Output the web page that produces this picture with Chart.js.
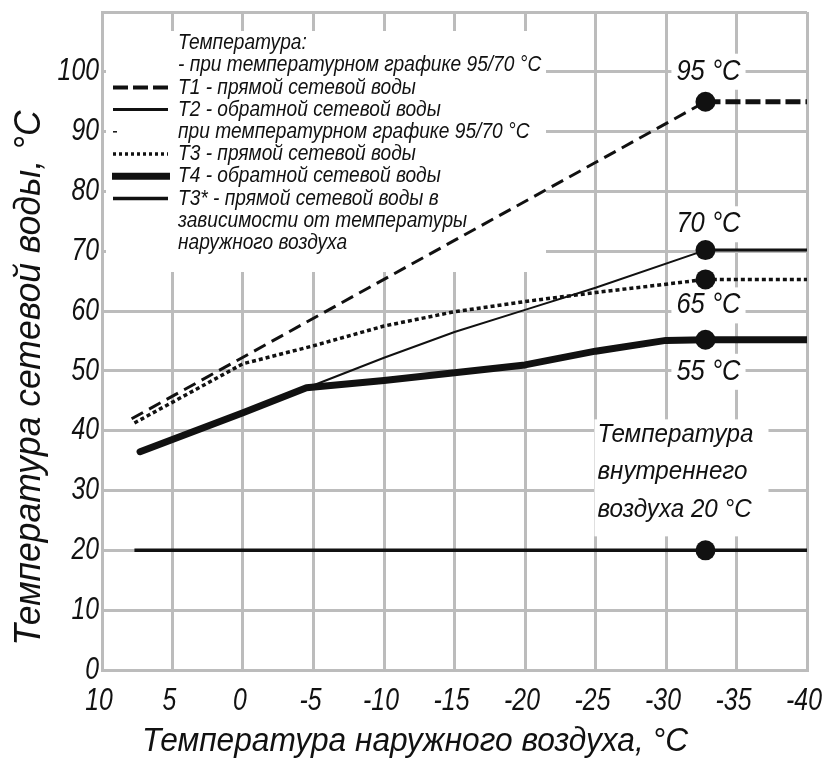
<!DOCTYPE html>
<html lang="ru">
<head>
<meta charset="utf-8">
<title>Температурный график</title>
<script src="https://cdn.jsdelivr.net/npm/chart.js@4.4.1/dist/chart.umd.min.js"></script>
<style>
  html, body { margin: 0; padding: 0; background: #fff; }
  #wrap { position: relative; width: 827px; height: 760px; }
</style>
</head>
<body>
<div id="wrap"><canvas id="chart-temp"></canvas></div>
<script>
// ticks
const xTicks = [10, 5, 0, -5, -10, -15, -20, -25, -30, -35, -40];
const yTicks = [0, 10, 20, 30, 40, 50, 60, 70, 80, 90, 100];

// outdoor air temperature where the design points sit
const designOutdoor = -32.8;

// T1 - supply water, 95/70
const t1Outdoor = [7.9, -32.8, -40];
const t1Water = [42, 95, 95];
// T2 - return water, 95/70
const t2Outdoor = [-5, -10, -15, -20, -25, -32.8, -40];
const t2Water = [47.6, 52.2, 56.5, 60.2, 63.9, 70.2, 70.2];
// T3 - supply water
const t3Outdoor = [7.7, 0, -5, -10, -15, -20, -25, -30, -32.8, -40];
const t3Water = [41.3, 51.2, 54.2, 57.5, 59.9, 61.6, 63.1, 64.5, 65.3, 65.3];
// T4 - return water
const t4Outdoor = [7.3, 0, -4.5, -10, -15, -20, -25, -30, -32.8, -40];
const t4Water = [36.5, 43, 47.2, 48.4, 49.7, 51, 53.3, 55.1, 55.2, 55.2];
// indoor air 20 °C
const airOutdoor = [7.7, -32.8, -40];
const airInside = [20, 20, 20];

const pointLabels = ['95 °C', '70 °C', '65 °C', '55 °C'];
const pointLabelValues = [95, 70, 65.3, 55.2];
const airLabel = ['Температура', 'внутреннего', 'воздуха 20 °C'];

const legendRows = [
  { text: 'Температура:', sample: null },
  { text: '- при температурном графике 95/70 °C', sample: null },
  { text: 'Т1 - прямой сетевой воды', sample: 'dash' },
  { text: 'Т2 - обратной сетевой воды', sample: 'thin' },
  { text: 'при температурном графике 95/70 °C', sample: 'tick' },
  { text: 'Т3 - прямой сетевой воды', sample: 'dot' },
  { text: 'Т4 - обратной сетевой воды', sample: 'thick' },
  { text: 'Т3* - прямой сетевой воды в', sample: 'mid' },
  { text: 'зависимости от температуры', sample: null },
  { text: 'наружного воздуха', sample: null }
];

const GRID = '#bcbcbc';
const INK = '#111';

function pts(xs, ys) {
  return xs.map((x, i) => ({ x: x, y: ys[i] }));
}

function isDesign(v) {
  return Math.abs(v - designOutdoor) < 0.01;
}

function markerRadius(ctx) {
  return ctx.raw && isDesign(ctx.raw.x) ? 10 : 0;
}

function drawText(ctx, str, x, y, size, align, sx) {
  ctx.save();
  ctx.translate(x, y);
  ctx.scale(sx || 1, 1);
  ctx.font = 'italic ' + size + 'px "Liberation Sans", Arial, sans-serif';
  ctx.textAlign = align;
  ctx.textBaseline = 'middle';
  ctx.fillStyle = INK;
  ctx.fillText(str, 0, 0);
  ctx.restore();
}

function textWidth(ctx, str, size, sx) {
  ctx.save();
  ctx.font = 'italic ' + size + 'px "Liberation Sans", Arial, sans-serif';
  const w = ctx.measureText(str).width * (sx || 1);
  ctx.restore();
  return w;
}

const labelOffsets = [-30, -27, 26, 32];

// white backgrounds behind legend and labels (over grid, under lines)
const backPlugin = {
  id: 'backs',
  beforeDatasetsDraw(chart) {
    const ctx = chart.ctx;
    const xs = chart.scales.x;
    const ys = chart.scales.y;
    ctx.save();
    ctx.fillStyle = '#fff';
    ctx.fillRect(106, 31, 440, 241);

    const px = xs.getPixelForValue(designOutdoor);
    pointLabels.forEach((t, i) => {
      const cy = ys.getPixelForValue(pointLabelValues[i]) + labelOffsets[i];
      const w = textWidth(ctx, t, 29, 0.88);
      ctx.fillRect(px + 3 - w / 2 - 5, cy - 18, w + 10, 36);
    });

    const ay = ys.getPixelForValue(20);
    ctx.fillRect(px - 111, ay - 131, 174, 117);
    ctx.restore();
  },
  afterDraw(chart) {
    const ctx = chart.ctx;
    const xs = chart.scales.x;
    const ys = chart.scales.y;
    const area = chart.chartArea;

    // tick labels
    xs.ticks.forEach(t => {
      if (xTicks.indexOf(t.value) < 0) return;
      drawText(ctx, String(t.value), xs.getPixelForValue(t.value) - 3, area.bottom + 31, 31, 'center', 0.8);
    });
    ys.ticks.forEach(t => {
      if (yTicks.indexOf(t.value) < 0) return;
      drawText(ctx, String(t.value), area.left - 3, ys.getPixelForValue(t.value), 31, 'right', 0.8);
    });

    // axis titles
    drawText(ctx, 'Температура наружного воздуха, °С', 415, 742, 33, 'center', 0.96);
    ctx.save();
    ctx.translate(30, 378);
    ctx.rotate(-Math.PI / 2);
    drawText(ctx, 'Температура сетевой воды, °С', 0, 0, 37, 'center', 0.96);
    ctx.restore();

    // point labels
    const px = xs.getPixelForValue(designOutdoor);
    pointLabels.forEach((t, i) => {
      drawText(ctx, t, px + 3, ys.getPixelForValue(pointLabelValues[i]) + labelOffsets[i], 29, 'center', 0.88);
    });
    const ay = ys.getPixelForValue(20);
    airLabel.forEach((t, i) => {
      drawText(ctx, t, px - 108, ay - 116 + i * 37.5, 26, 'left', 0.93);
    });

    // legend
    ctx.save();
    ctx.strokeStyle = INK;
    legendRows.forEach((row, i) => {
      const y = 43 + i * 22.2;
      drawText(ctx, row.text, 178, y, 22, 'left', 0.87);
      if (!row.sample) return;
      ctx.beginPath();
      ctx.setLineDash([]);
      ctx.lineCap = 'butt';
      let x0 = 113, x1 = 168;
      if (row.sample === 'dash') { ctx.lineWidth = 4; ctx.setLineDash([15, 5]); }
      if (row.sample === 'thin') { ctx.lineWidth = 3; }
      if (row.sample === 'tick') { ctx.lineWidth = 1.5; x1 = 117; }
      if (row.sample === 'dot') { ctx.lineWidth = 3.5; ctx.setLineDash([3, 3]); }
      if (row.sample === 'thick') { ctx.lineWidth = 7; x0 = 112; x1 = 170; }
      if (row.sample === 'mid') { ctx.lineWidth = 3.5; }
      ctx.moveTo(x0, y);
      ctx.lineTo(x1, y);
      ctx.stroke();
    });
    ctx.restore();
  }
};

const common = {
  showLine: true,
  borderColor: INK,
  backgroundColor: INK,
  pointBackgroundColor: INK,
  pointBorderWidth: 0,
  pointRadius: markerRadius,
  pointHoverRadius: markerRadius,
  fill: false,
  tension: 0
};

const afterDesign = c => c.p0.parsed.x <= designOutdoor + 0.01;

new Chart(document.getElementById('chart-temp'), {
  type: 'scatter',
  data: {
    datasets: [
      Object.assign({}, common, {
        label: 'T1', data: pts(t1Outdoor, t1Water),
        borderWidth: 3, borderDash: [13, 7],
        segment: {
          borderWidth: c => afterDesign(c) ? 5 : 3,
          borderDash: c => afterDesign(c) ? [15, 5] : [13, 7]
        }
      }),
      Object.assign({}, common, {
        label: 'T2', data: pts(t2Outdoor, t2Water),
        borderWidth: 2,
        segment: { borderWidth: c => afterDesign(c) ? 3 : 2 }
      }),
      Object.assign({}, common, {
        label: 'T3', data: pts(t3Outdoor, t3Water),
        borderWidth: 3.5, borderDash: [4, 3]
      }),
      Object.assign({}, common, {
        label: 'T4', data: pts(t4Outdoor, t4Water),
        borderWidth: 7, borderCapStyle: 'round', borderJoinStyle: 'round'
      }),
      Object.assign({}, common, {
        label: 'T3*', data: pts(airOutdoor, airInside),
        borderWidth: 3.5
      })
    ]
  },
  options: {
    responsive: true,
    maintainAspectRatio: false,
    animation: false,
    events: [],
    layout: { padding: { left: 102, right: 20, top: 12, bottom: 90 } },
    plugins: {
      legend: { display: false },
      tooltip: { enabled: false }
    },
    scales: {
      x: {
        type: 'linear',
        reverse: true,
        min: -40,
        max: 10,
        ticks: { display: false, stepSize: 5 },
        grid: { color: GRID, lineWidth: 3, drawTicks: false },
        border: { color: GRID, width: 3 }
      },
      y: {
        type: 'linear',
        min: 0,
        max: 110,
        ticks: { display: false, stepSize: 10 },
        grid: { color: GRID, lineWidth: 3, drawTicks: false },
        border: { color: GRID, width: 3 }
      }
    }
  },
  plugins: [backPlugin]
});
</script>
</body>
</html>
